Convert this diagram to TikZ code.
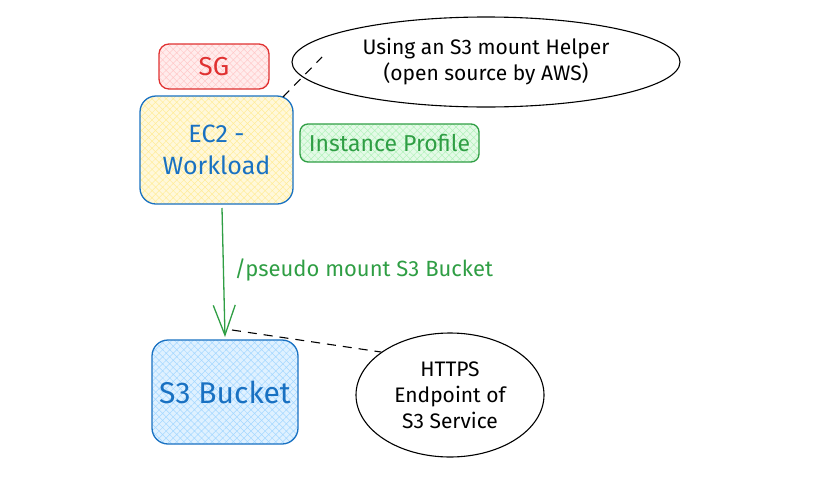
\documentclass[tikz,border=0pt]{standalone}
\usepackage{fontspec}
\setmainfont{Fira Sans}
\usetikzlibrary{shapes.geometric,patterns.meta,arrows.meta}
\definecolor{cred}{HTML}{E03131}
\definecolor{fred}{HTML}{FFC9C9}
\definecolor{cblue}{HTML}{1971C2}
\definecolor{fyellow}{HTML}{FFEC99}
\definecolor{cgreen}{HTML}{2F9E44}
\definecolor{fgreen}{HTML}{B2F2BB}
\definecolor{fblue}{HTML}{A5D8FF}
\tikzset{
  hatchbox/.style 2 args={draw=#1, line width=1.3pt, rounded corners=10pt,
    preaction={fill=#2!35},
    pattern={Hatch[angle=45,distance=5pt,line width=0.5pt]}, pattern color=#2,
    align=center, inner sep=0pt},
  bubble/.style={draw=black, line width=1.1pt, ellipse, inner sep=0pt, align=center,
    font=\fontsize{21}{26}\selectfont},
  dashline/.style={draw=black, line width=1.1pt, dash pattern=on 9pt off 7pt},
}
\begin{document}
\begin{tikzpicture}[x=1pt,y=-1pt]
\useasboundingbox (0,0) rectangle (827,477);
\node[hatchbox={cred}{fred}, minimum width=110pt, minimum height=45pt, text=cred,
  font=\fontsize{26}{30}\selectfont] (sg) at (214,66.5) {SG};
\node[hatchbox={cblue}{fyellow}, minimum width=153pt, minimum height=108pt, rounded corners=16pt, text=cblue,
  font=\fontsize{25}{32}\selectfont] (ec2) at (216.5,150) {EC2 -\\Workload};
\node[hatchbox={cgreen}{fgreen}, minimum width=179pt, minimum height=38pt, rounded corners=8pt, text=cgreen,
  font=\fontsize{23}{26}\selectfont] (ip) at (389.5,143) {Instance Profile};
\node[hatchbox={cblue}{fblue}, minimum width=146pt, minimum height=104pt, rounded corners=16pt, text=cblue,
  font=\fontsize{30}{34}\selectfont] (s3) at (225,392) {S3 Bucket};
\node[bubble, minimum width=388pt, minimum height=90pt] (helper) at (486,62)
  {Using an S3 mount Helper\\(open source by AWS)};
\node[bubble, minimum width=188pt, minimum height=124pt] (https) at (450,395)
  {HTTPS\\Endpoint of\\S3 Service};
\coordinate (a1) at (222,208);
\coordinate (a2) at (225,337);
\coordinate (d1) at (283,97);
\coordinate (d2) at (322,57);
\coordinate (d3) at (232,330);
\draw[dashline] (d1) -- (d2);
\draw[dashline] (d3) -- (https.148);
\draw[draw=cgreen, line width=1.3pt, -{Straight Barb[length=30pt,width=22pt,line width=1.3pt]}] (a1) -- (a2);
\node[text=cgreen, font=\fontsize{22}{26}\selectfont, anchor=west] (lbl) at (231,270) {/pseudo mount S3 Bucket};
\end{tikzpicture}
\end{document}
